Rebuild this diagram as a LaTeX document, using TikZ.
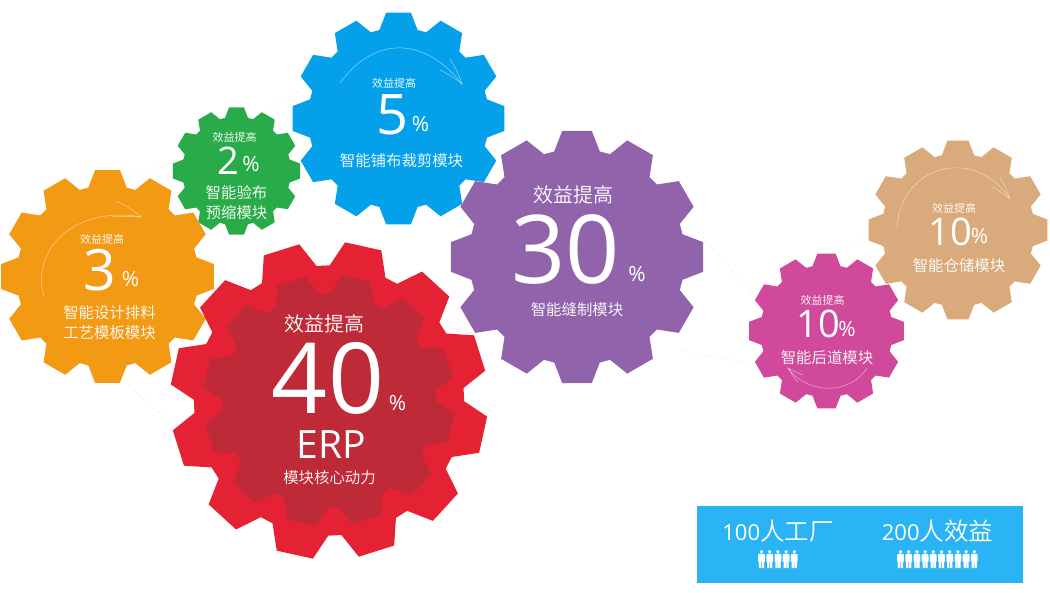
\documentclass[tikz,border=0pt]{standalone}
\usepackage{fontspec}
\setmainfont{Noto Sans CJK SC DemiLight}
\newfontfamily\digitfont{Open Sans}
\definecolor{cOrange}{HTML}{F39A14}
\definecolor{cGreen}{HTML}{29AB4A}
\definecolor{cBlue}{HTML}{04A1EA}
\definecolor{cPurple}{HTML}{9163AB}
\definecolor{cTan}{HTML}{D9AB7C}
\definecolor{cPink}{HTML}{D0499A}
\definecolor{cRed}{HTML}{E52233}
\definecolor{cDark}{HTML}{BE2A37}
\definecolor{cBox}{HTML}{2BB4F5}
\newcommand{\gearshape}[5]{%
  \gdef\gearpath{}%
  \pgfmathsetmacro\gearrin{.85*#3}%
  \foreach \k in {0,...,11}{%
    \pgfmathsetmacro\angA{#4+30*\k-6.7}%
    \pgfmathsetmacro\angB{#4+30*\k+6.7}%
    \pgfmathsetmacro\angC{#4+30*\k+12.2}%
    \pgfmathsetmacro\angD{#4+30*\k+17.8}%
    \xdef\gearpath{\gearpath -- (\angA:#3) -- (\angB:#3) -- (\angC:\gearrin) -- (\angD:\gearrin)}%
  }%
  \pgfmathsetmacro\angS{#4-6.7}%
  \fill[#5,shift={(#1,#2)}] (\angS:#3) \gearpath -- cycle;
}
\newcommand{\personicon}[2]{%
  \begin{scope}[shift={(#1,#2)},white]
    \fill (0,1.8) circle (1.8);
    \fill (-3.4,4.8) -- (-2.4,3.8) -- (2.4,3.8) -- (3.4,4.8) -- (3.4,11.5) -- (2.6,11.5) -- (2.6,18) -- (.3,18) -- (.3,11.5) -- (-.3,11.5) -- (-.3,18) -- (-2.6,18) -- (-2.6,11.5) -- (-3.4,11.5) -- cycle;
  \end{scope}
}
\tikzset{
  gtext/.style={text=white,inner sep=0pt,anchor=center},
  tinylabel/.style={gtext,font=\fontsize{11}{12}\selectfont},
  modlabel/.style={gtext,font=\fontsize{15.4}{18}\selectfont},
  largelabel/.style={gtext,font=\fontsize{20}{22}\selectfont},
  pctsmall/.style={gtext,font=\digitfont\fontsize{21}{24}\selectfont},
  num/.style={gtext,font=\digitfont\fontsize{#1}{#1}\selectfont},
  swirl/.style={draw=white,draw opacity=.55,line width=.5pt},
  faint/.style={draw=black!14,line width=.5pt,dash pattern=on 1pt off 2.5pt},
  boxlabel/.style={gtext,font=\fontsize{24.5}{26}\selectfont}
}
\begin{document}
\begin{tikzpicture}[x=1pt,y=-1pt]
\useasboundingbox (0,0) rectangle (1050,592);
% faint links between the gears
\coordinate (f1a) at (130,175); \coordinate (f1b) at (173,163);
\coordinate (f2a) at (270,110); \coordinate (f2b) at (307,85);
\coordinate (f3a) at (698,232); \coordinate (f3b) at (752,293);
\coordinate (f4a) at (680,350); \coordinate (f4b) at (755,364);
\coordinate (f5a) at (838,253); \coordinate (f5b) at (870,233);
\coordinate (f6a) at (128,385); \coordinate (f6b) at (172,424);
\foreach \u/\v in {f1a/f1b,f2a/f2b,f3a/f3b,f4a/f4b,f5a/f5b,f6a/f6b} \draw[faint] (\u) -- (\v);
% gears
\gearshape{398.5}{118.5}{106.5}{0}{cBlue}
\gearshape{236.5}{171}{64}{0}{cGreen}
\gearshape{107.5}{276.5}{107}{0}{cOrange}
\gearshape{577}{257}{127}{0}{cPurple}
\gearshape{958}{230}{90}{0}{cTan}
\gearshape{826.5}{331}{78}{0}{cPink}
\gearshape{329}{400.5}{159}{12.5}{cRed}
\gearshape{329}{400.5}{126}{12.5}{cDark}
% swirls
\draw[swirl] (44,297) .. controls (30,250) and (75,205) .. (141,217);
\draw[swirl] (116,201) .. controls (125,205) and (133,210) .. (141,217) .. controls (132,216) and (122,216) .. (112,217);
\draw[swirl] (340,83) .. controls (375,35) and (425,37) .. (462,84);
\draw[swirl] (450,59) .. controls (455,66) and (459,75) .. (462,84) .. controls (455,78) and (448,74) .. (440,70);
\draw[swirl] (897,228) .. controls (900,165) and (975,145) .. (1010,199);
\draw[swirl] (1000,177) .. controls (1004,184) and (1007,191) .. (1010,199) .. controls (1004,194) and (998,190) .. (991,186);
\draw[swirl] (867,368) .. controls (850,395) and (808,395) .. (788,368);
\draw[swirl] (803,375) .. controls (798,373) and (793,371) .. (788,368) .. controls (791,373) and (794,378) .. (798,382);
% orange
\node[tinylabel] (oa) at (102,239) {效益提高};
\node[num=57] (ob) at (99.5,270.5) {3};
\node[pctsmall] (oc) at (130.5,279) {\%};
\node[modlabel] (od) at (109.5,313) {智能设计排料};
\node[modlabel] (oe) at (109.5,333) {工艺模板模块};
% green
\node[tinylabel] (ga) at (234.5,137) {效益提高};
\node[num=38] (gb) at (228.5,160.5) {2};
\node[pctsmall] (gc) at (251,163.5) {\%};
\node[modlabel] (gd) at (236.5,193) {智能验布};
\node[modlabel] (ge) at (236.5,213) {预缩模块};
% blue
\node[tinylabel] (ba) at (394,83) {效益提高};
\node[num=56] (bb) at (392.5,115) {5};
\node[pctsmall] (bc) at (420.5,124) {\%};
\node[modlabel] (bd) at (401.5,161) {智能铺布裁剪模块};
% purple
\node[largelabel] (pa) at (573,195) {效益提高};
\node[num=95] (pb) at (565.5,249.5) {30};
\node[pctsmall] (pc) at (637,274) {\%};
\node[modlabel] (pd) at (577,310) {智能缝制模块};
% red
\node[largelabel] (ra) at (324.5,324) {效益提高};
\node[num=98] (rb) at (328,378.5) {40};
\node[pctsmall] (rc) at (397.5,402.5) {\%};
\node[gtext,font=\digitfont\fontsize{39}{39}\selectfont] (rd) at (331,445) {ERP};
\node[modlabel] (re) at (329.5,478) {模块核心动力};
% tan
\node[tinylabel] (ta) at (954,208) {效益提高};
\node[num=38] (tb) at (950,231.5) {10};
\node[pctsmall] (tc) at (979.5,236) {\%};
\node[modlabel] (td) at (959,266) {智能仓储模块};
% pink
\node[tinylabel] (ka) at (822.5,300) {效益提高};
\node[num=38] (kb) at (818.5,323.5) {10};
\node[pctsmall] (kc) at (847,329) {\%};
\node[modlabel] (kd) at (827,358) {智能后道模块};
% legend
\fill[cBox] (697,506) rectangle (1023,583);
\node[boxlabel] (la) at (778,531) {{\digitfont\fontsize{22}{26}\selectfont 100}人工厂};
\node[boxlabel] (lb) at (937.5,531) {{\digitfont\fontsize{22}{26}\selectfont 200}人效益};
\foreach \k in {0,...,4} \personicon{761.5+8.2*\k}{550};
\foreach \k in {0,...,9} \personicon{900.5+8.2*\k}{550};
\end{tikzpicture}
\end{document}
